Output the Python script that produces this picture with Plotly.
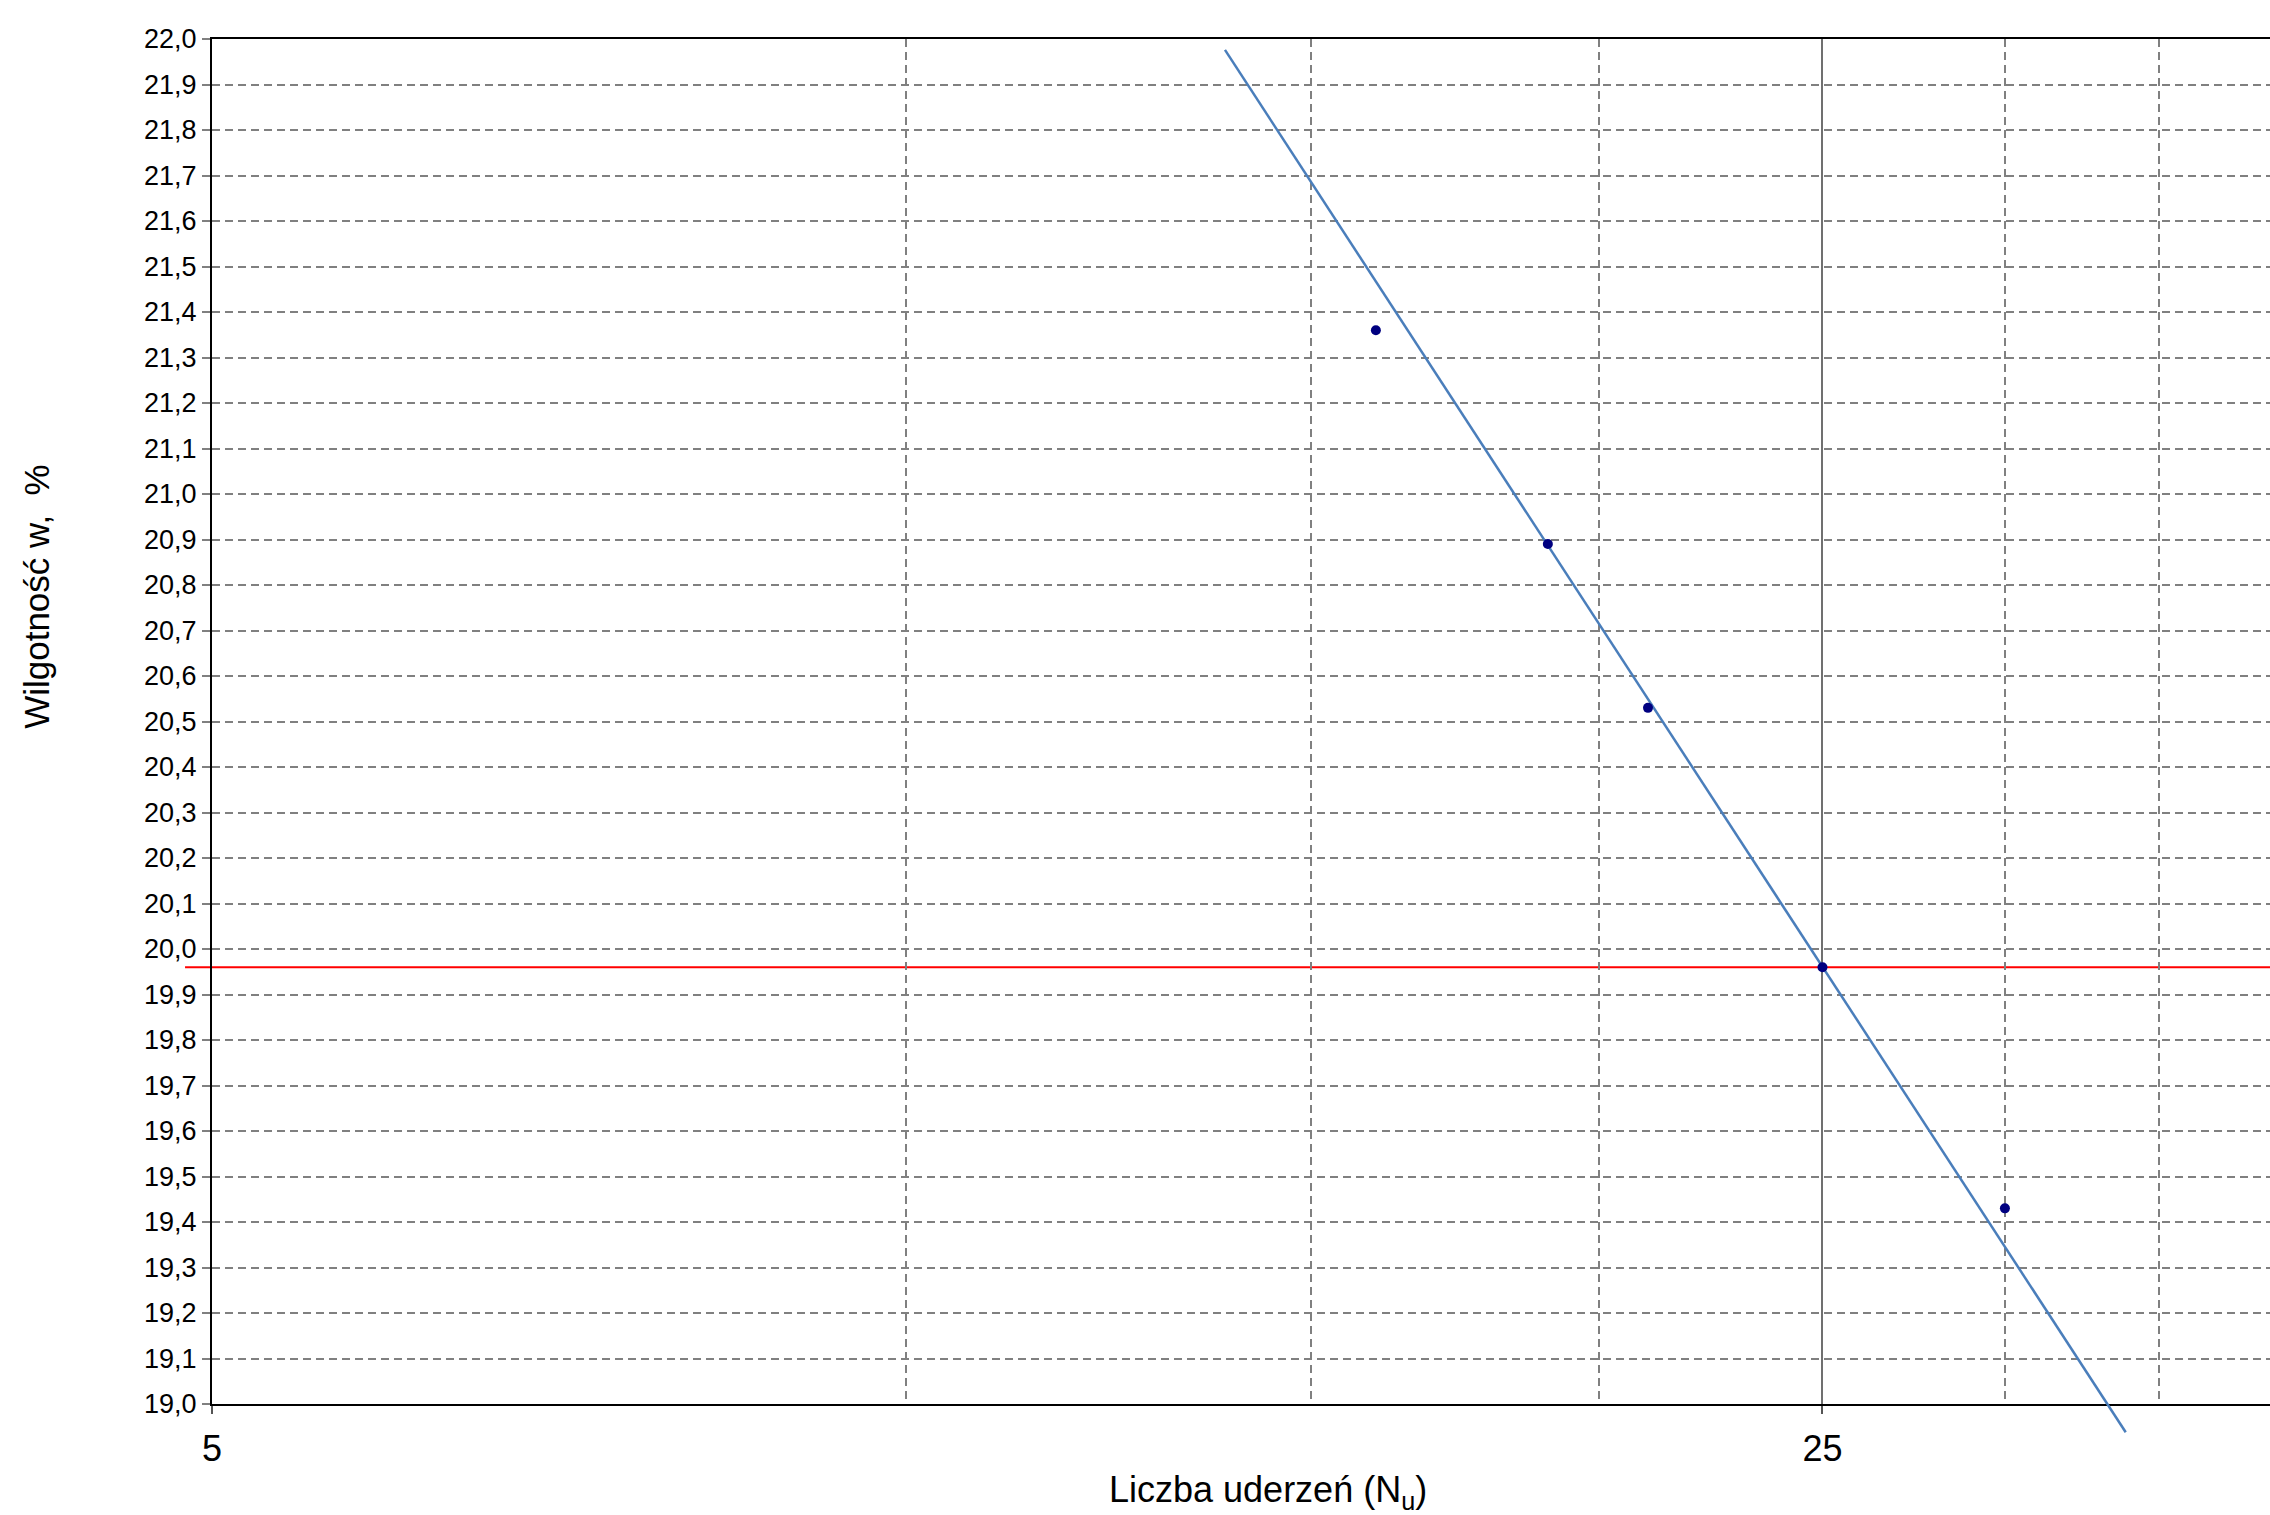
import math
import plotly.graph_objects as go

# Casagrande cup test results: number of blows vs water content
blows = [16, 19, 21, 30]
moisture = [21.36, 20.89, 20.53, 19.43]

# liquid limit read at 25 blows
ll_blows = [25]
ll_moisture = [19.96]

# flow line (straight in semi-log space), end points
trend_blows = [13.76, 33.85]
trend_moisture = [21.976, 18.938]

y_ticks = [round(19.0 + 0.1 * i, 1) for i in range(31)]
x_ticks = [5, 25]
x_ticklabels = ["5", "25"]
x_minor_grid = [10, 15, 20, 30, 35]

W, H = 2270, 1515
M_L, M_R, M_T, M_B = 212, 0, 39, 71
EXTRA = 40  # room below the x-axis where the flow line may run on
plot_h = H - M_T - M_B
y_dom0 = EXTRA / plot_h
y_range = [19.0, 22.0]
y2_low = y_range[0] - (y_range[1] - y_range[0]) * EXTRA / (plot_h - EXTRA)
x_range = [math.log10(5), math.log10(39.1)]

FONT = "Liberation Sans, Arial, sans-serif"
GRID = "#808080"

fig = go.Figure()

# flow line and measured points on an unclipped twin of the main axes
fig.add_trace(go.Scatter(
    x=trend_blows, y=trend_moisture, mode="lines",
    line=dict(color="#4a7ebb", width=2.5),
    xaxis="x2", yaxis="y2", showlegend=False, hoverinfo="skip",
))
fig.add_trace(go.Scatter(
    x=blows + ll_blows, y=moisture + ll_moisture, mode="markers",
    marker=dict(color="#000080", size=10),
    xaxis="x2", yaxis="y2", showlegend=False,
))

# liquid limit level
fig.add_shape(
    type="line", xref="x domain", yref="y",
    x0=-0.0131, x1=1, y0=ll_moisture[0], y1=ll_moisture[0],
    line=dict(color="#ff0000", width=2), layer="below",
)

fig.update_layout(
    width=W, height=H,
    margin=dict(l=M_L, r=M_R, t=M_T, b=M_B, pad=0),
    paper_bgcolor="white",
    plot_bgcolor="rgba(0,0,0,0)",
    separators=", ",
    font=dict(family=FONT, color="black"),
    showlegend=False,
    xaxis=dict(
        type="log", range=x_range, domain=[0, 1], anchor="y",
        tickmode="array", tickvals=x_ticks, ticktext=x_ticklabels,
        ticks="outside", ticklen=8, tickwidth=2, tickcolor="#555555",
        ticklabelstandoff=4,
        tickfont=dict(size=36, family=FONT, color="black"),
        showline=True, linecolor="black", linewidth=2, mirror=True,
        showgrid=True, gridcolor="#707070", gridwidth=2, griddash="solid",
        minor=dict(tickmode="array", tickvals=x_minor_grid, showgrid=True,
                   gridcolor=GRID, gridwidth=1.5, griddash="8px,5px", ticks=""),
        zeroline=False,
    ),
    yaxis=dict(
        range=y_range, domain=[y_dom0, 1], anchor="x",
        tickmode="array", tickvals=y_ticks, tickformat=".1f",
        ticks="outside", ticklen=8, tickwidth=2, tickcolor=GRID,
        tickfont=dict(size=27, family=FONT, color="black"),
        showline=True, linecolor="black", linewidth=2,
        showgrid=True, gridcolor=GRID, gridwidth=1.5, griddash="8px,5px",
        zeroline=False,
    ),
    xaxis2=dict(type="log", range=x_range, domain=[0, 1], anchor="y2",
                visible=False),
    yaxis2=dict(range=[y2_low, y_range[1]], domain=[0, 1], anchor="x2",
                visible=False),
    annotations=[
        dict(text="Liczba uderzeń (N<sub>u</sub>)", xref="paper", yref="paper",
             x=0.513, y=-0.034, xanchor="center", yanchor="middle",
             showarrow=False, font=dict(size=36, family=FONT, color="black")),
        dict(text="Wilgotność w,  %", xref="paper", yref="paper",
             x=-0.085, y=0.603, xanchor="center", yanchor="middle",
             textangle=-90, showarrow=False,
             font=dict(size=35, family=FONT, color="black")),
    ],
)

fig.write_html("out.html")
